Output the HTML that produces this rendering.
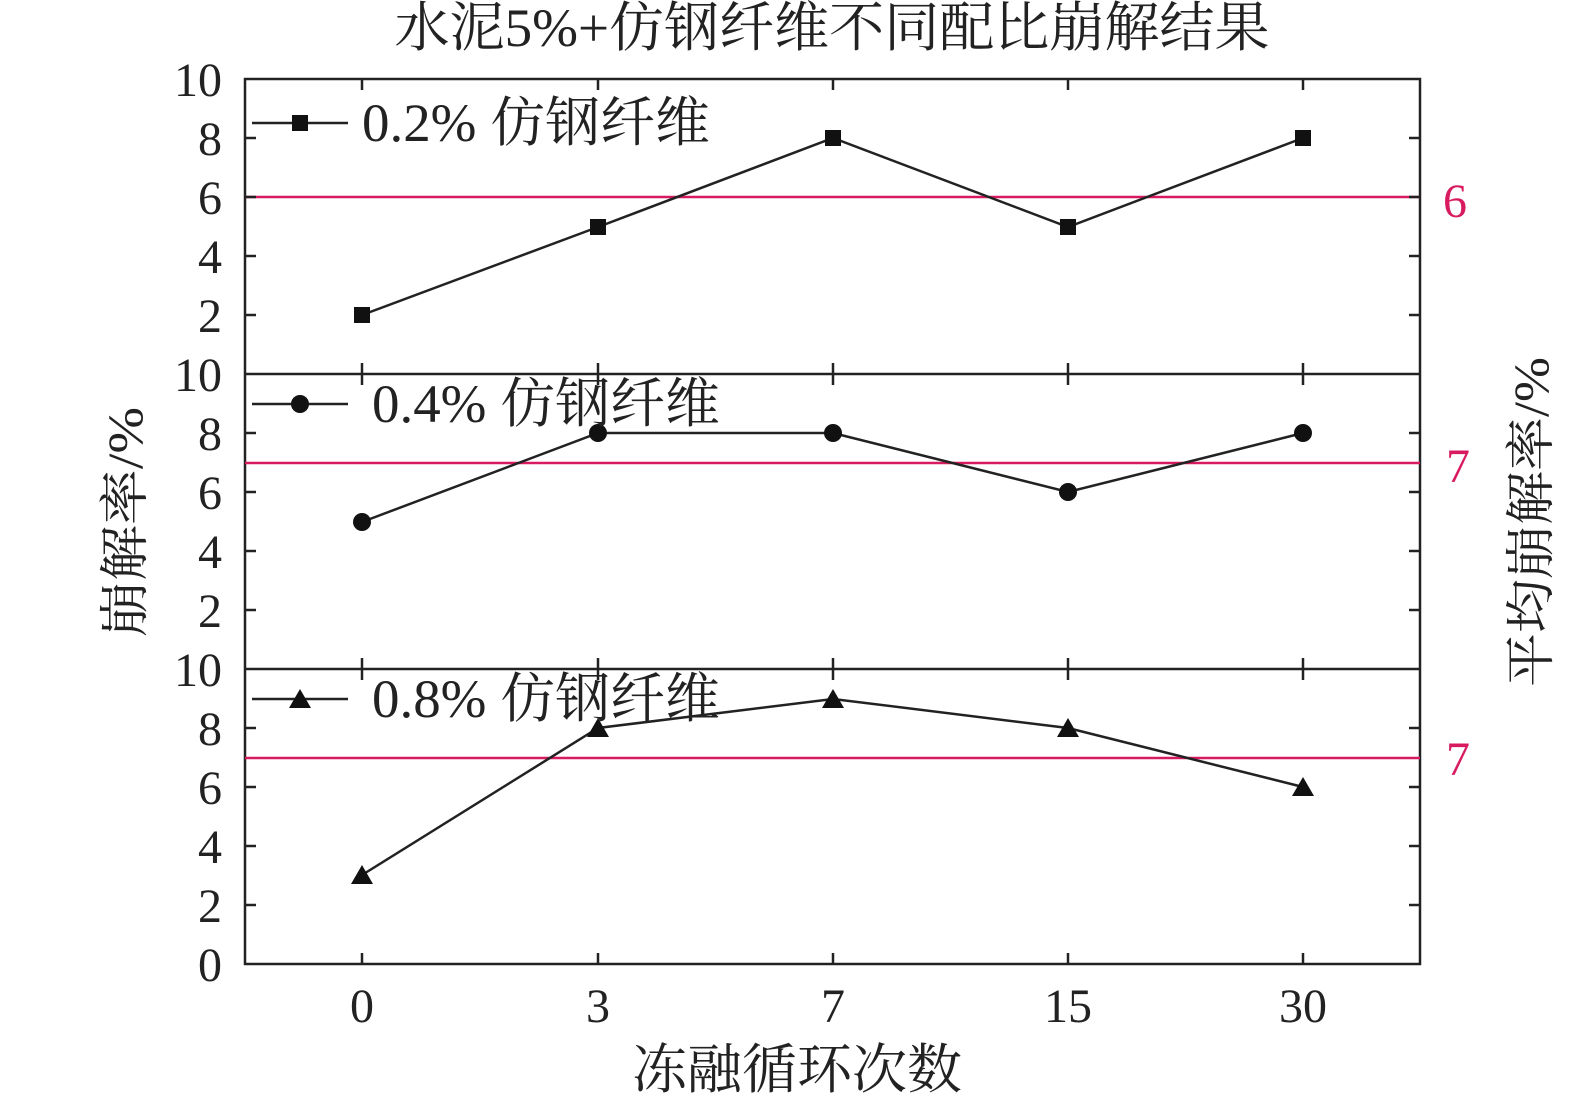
<!DOCTYPE html>
<html><head><meta charset="utf-8"><style>body{margin:0;background:#fff}svg{display:block}text{font-family:"Liberation Serif","Noto Serif CJK SC",serif;fill:#222}</style></head><body>
<svg width="1575" height="1110" viewBox="0 0 1575 1110" xmlns="http://www.w3.org/2000/svg">
<text x="832" y="46" font-size="54" text-anchor="middle" textLength="875" lengthAdjust="spacingAndGlyphs">水泥5%+仿钢纤维不同配比崩解结果</text>
<g stroke="#222" stroke-width="2.5" fill="none">
<rect x="245" y="79" width="1175" height="885"/>
<line x1="245" y1="374" x2="1420" y2="374"/>
<line x1="245" y1="669" x2="1420" y2="669"/>
</g>
<g stroke="#d81b60" stroke-width="2.5">
<line x1="245" y1="197" x2="1420" y2="197"/>
<line x1="245" y1="463" x2="1420" y2="463"/>
<line x1="245" y1="758" x2="1420" y2="758"/>
</g>
<g stroke="#222" stroke-width="2.5">
<path d="M245 138h11M245 197h11M245 256h11M245 315h11M1420 138h-11M1420 197h-11M1420 256h-11M1420 315h-11
M245 433h11M245 492h11M245 551h11M245 610h11M1420 433h-11M1420 492h-11M1420 551h-11M1420 610h-11
M245 728h11M245 787h11M245 846h11M245 905h11M1420 728h-11M1420 787h-11M1420 846h-11M1420 905h-11"/>
<path d="M362 79v11M598 79v11M833 79v11M1068 79v11M1303 79v11
M362 374v-11M598 374v-11M833 374v-11M1068 374v-11M1303 374v-11
M362 374v11M598 374v11M833 374v11M1068 374v11M1303 374v11
M362 669v-11M598 669v-11M833 669v-11M1068 669v-11M1303 669v-11
M362 669v11M598 669v11M833 669v11M1068 669v11M1303 669v11
M362 964v-11M598 964v-11M833 964v-11M1068 964v-11M1303 964v-11"/>
</g>
<g font-size="48" text-anchor="end">
<text x="222" y="96">10</text><text x="222" y="155">8</text><text x="222" y="214">6</text><text x="222" y="273">4</text><text x="222" y="332">2</text>
<text x="222" y="391">10</text><text x="222" y="450">8</text><text x="222" y="509">6</text><text x="222" y="568">4</text><text x="222" y="627">2</text>
<text x="222" y="686">10</text><text x="222" y="745">8</text><text x="222" y="804">6</text><text x="222" y="863">4</text><text x="222" y="922">2</text><text x="222" y="981">0</text>
</g>
<g font-size="48" text-anchor="middle">
<text x="362" y="1022">0</text><text x="598" y="1022">3</text><text x="833" y="1022">7</text><text x="1068" y="1022">15</text><text x="1303" y="1022">30</text>
</g>
<text x="797" y="1088" font-size="54" text-anchor="middle" textLength="330" lengthAdjust="spacingAndGlyphs">冻融循环次数</text>
<g font-size="48">
<text x="1443" y="217" style="fill:#d81b60">6</text>
<text x="1446" y="482" style="fill:#d81b60">7</text>
<text x="1446" y="775" style="fill:#d81b60">7</text>
</g>
<text font-size="50" text-anchor="middle" transform="translate(142 522) rotate(-90)" textLength="230" lengthAdjust="spacingAndGlyphs">崩解率/%</text>
<text font-size="50" text-anchor="middle" transform="translate(1548 522) rotate(-90)" textLength="330" lengthAdjust="spacingAndGlyphs">平均崩解率/%</text>
<g stroke="#222" stroke-width="2.5" fill="none">
<polyline points="362,315 598,227 833,138 1068,227 1303,138"/>
<polyline points="362,522 598,433 833,433 1068,492 1303,433"/>
<polyline points="362,875 598,728 833,699 1068,728 1303,787"/>
<line x1="252" y1="123" x2="348" y2="123"/>
<line x1="252" y1="404" x2="348" y2="404"/>
<line x1="252" y1="699" x2="348" y2="699"/>
</g>
<g fill="#111">
<rect x="354" y="307" width="16" height="16"/><rect x="590" y="219" width="16" height="16"/><rect x="825" y="130" width="16" height="16"/><rect x="1060" y="219" width="16" height="16"/><rect x="1295" y="130" width="16" height="16"/><rect x="292" y="115" width="16" height="16"/>
<circle cx="362" cy="522" r="9"/><circle cx="598" cy="433" r="9"/><circle cx="833" cy="433" r="9"/><circle cx="1068" cy="492" r="9"/><circle cx="1303" cy="433" r="9"/><circle cx="300" cy="404" r="9"/>
<path d="M362 865l11 19h-22z M598 718l11 19h-22z M833 689l11 19h-22z M1068 718l11 19h-22z M1303 777l11 19h-22z M300 689l11 19h-22z"/>
</g>
<g font-size="54">
<text x="362" y="141" textLength="348" lengthAdjust="spacingAndGlyphs">0.2% 仿钢纤维</text>
<text x="372" y="422" textLength="348" lengthAdjust="spacingAndGlyphs">0.4% 仿钢纤维</text>
<text x="372" y="717" textLength="348" lengthAdjust="spacingAndGlyphs">0.8% 仿钢纤维</text>
</g>
</svg>
</body></html>
